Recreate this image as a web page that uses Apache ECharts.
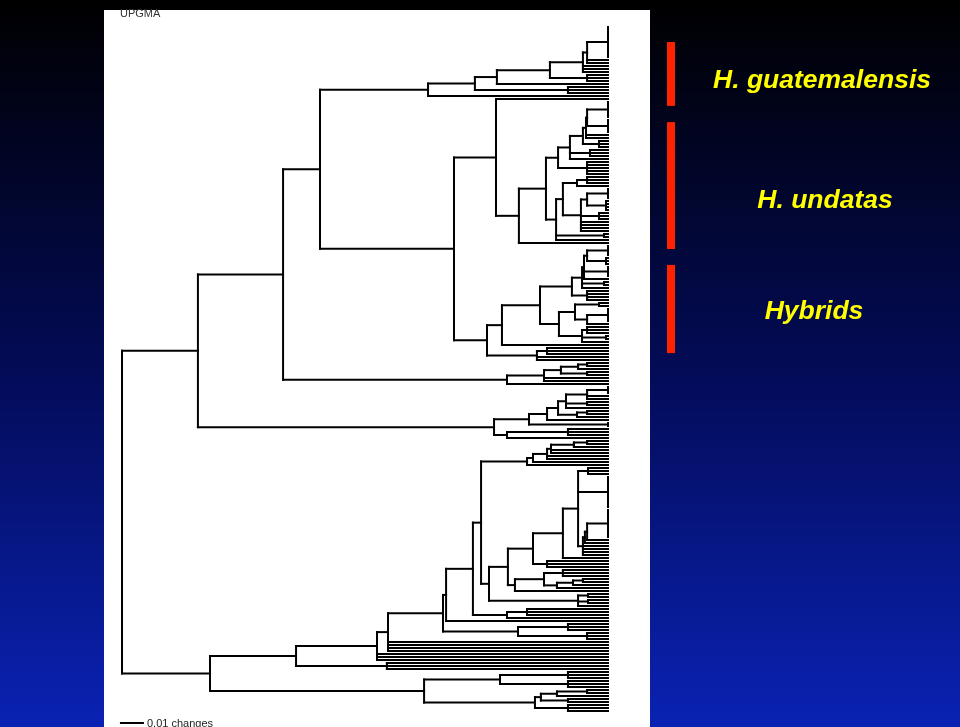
<!DOCTYPE html>
<html><head><meta charset="utf-8">
<script src="https://cdn.jsdelivr.net/npm/echarts@6/dist/echarts.min.js"></script>
<style>html,body{margin:0;padding:0;background:#000;}#c{width:960px;height:727px;}</style>
</head><body><div id="c"></div>
<script>
// Tree nodes: [height in changes, child, child, ...]; a plain number n = n leaves attached at that node.
const guatClade = [0.0818,
  [0.0605,
    [0.0505,
      [0.0264,
        [0.0114, [0.0095, [0, 11], 1, 1], 1, 1, 1],
        [0.0095, 3]],
      1],
    [0.0182, 3]],
  1];
const undatasClade = [0.0509,
  1,
  [0.0405,
    [0.0282,
      [0.0227,
        [0.0173,
          [0.0114,
            [0.0100, [0.0095, [0, 6], [0, 5]], 1, 1],
            [0.0041, 3]],
          [0.0082, 3],
          1],
        [0.0095, 5]],
      [0.0236,
        [0.0205,
          [0.0141, [0.0095, 3], 1],
          [0.0123, [0.0095, [0, 4], [0.0009, 4]], [0.0041, 3], 1, 1, 1, 1]],
        [0.0018, 2],
        1]],
    1]];
const hybridClade = [0.0550,
  [0.0482,
    [0.0309,
      [0.0164,
        [0.0118,
          [0.0109, [0.0095, [0, 4], [0.0009, 3]], [0, 4], 1],
          [0.0018, 2],
          1],
        [0.0095, 4]],
      [0.0223,
        [0.0150, [0.0041, 2], [0.0095, [0, 5], 1]],
        [0.0118, [0.0095, 3], [0.0009, 2], 1]]],
    1],
  [0.0323, [0.0277, 3], 1, 1]];
const smallClade = [0.0459,
  [0.0291, [0.0214, [0.0136, [0.0095, 2], 1], [0.0095, 2]], 1, 1],
  1];
const sisterClade = [0.0518,
  [0.0359,
    [0.0277,
      [0.0227,
        [0.0191, [0.0095, [0, 3], 1, 1], [0.0095, 2], 1],
        [0.0141, [0.0095, 2], 1]],
      1],
    [0, 2]],
  [0.0459, [0.0182, 3], 1]];
const lowerTop = [0.0368, [0.0341, [0.0277, [0.0259, [0.0155, [0.0095, 2], 1], 1, 1], 1, 1], 1], 1];
const lowerCore = [0.0136, [0.0091, 3], [0, 11],
  [0.0114, [0.0105, [0.0095, [0, 10], 1], 1], 1, 1, 1, 1]];
const lowerMid = [0.0423, [0.0291, [0.0205, 3], [0.0232, [0.0159, [0.0114, 2], 1], 1]], 1];
const lowerB = [0.0136, [0.0091, 2], [0.0091, 2], 1];
const lowerC = [0.0459, [0.0368, 3], 1];
const lowerD = [0.0409, [0.0182, 3], [0.0095, 3]];
const bottomClade = [0.0836,
  [0.0491, [0.0182, 3], [0.0182, 3]],
  [0.0332, [0.0305, [0.0232, [0.0095, 2], 1], [0.0182, 2]], [0.0182, 3]]];
// deep node heights
const deepHeights = { root: 0.2209, A: 0.1864, A1: 0.1477, A1a: 0.1309, A1a2: 0.0700,
  B: 0.1809, B1: 0.1418, N377: 0.1050, N386: 0.1005, N387: 0.1000, N443: 0.0750, N446: 0.0736,
  N473: 0.0614, N482: 0.0577, N489: 0.0541, N508: 0.0455, N533: 0.0341, N563: 0.0205 };
const groupNames = ['H. guatemalensis', 'H. undatas', 'Hybrids'];
const groupRanges = [[5, 26.3], [31.7, 74], [79.3, 108.7]];
const scaleBar = [0.2214, 0.2114]; // 0.01 changes
const scaleRow = 232;
// label placement (pixel offsets from the bar): [dx, dy]
const labelShift = [[155, 7], [158, 15], [147, 3]];

const d = deepHeights;
const lowerClade = [d.B1,
  [d.N377,
    [d.N387,
      [d.N443,
        [d.N446,
          [d.N473,
            [d.N482, lowerTop,
              [d.N489,
                [d.N508, [d.N533, [d.N563, lowerCore, 1], [0.0277, 3]], lowerMid],
                lowerB]],
            lowerC],
          1],
        lowerD],
      1, 1, 1, 1],
    1, 1, 1],
  [d.N386, 1, 1, 1]];
const tree = [d.root,
  [d.A, [d.A1, [d.A1a, guatClade, [d.A1a2, undatasClade, hybridClade]], smallClade], sisterClade],
  [d.B, lowerClade, bottomClade]];

const segs = [];
let leafCounter = 0;
function walk(node) {
  const h = node[0], ys = [];
  for (let k = 1; k < node.length; k++) {
    const c = node[k];
    if (typeof c === 'number') {
      for (let j = 0; j < c; j++) {
        const y = leafCounter++;
        if (h > 0) segs.push([h, y, 0, y]);
        ys.push(y);
      }
    } else {
      const cy = walk(c);
      segs.push([h, cy, c[0], cy]);
      ys.push(cy);
    }
  }
  const lo = Math.min(...ys), hi = Math.max(...ys);
  if (hi > lo) segs.push([h, lo, h, hi]);
  return (lo + hi) / 2;
}
walk(tree);
segs.push([scaleBar[0], scaleRow, scaleBar[1], scaleRow]);

const chart = echarts.init(document.getElementById('c'), null, { renderer: 'canvas' });
const ROW = 3;
chart.setOption({
  animation: false,
  backgroundColor: { type: 'linear', x: 0, y: 0, x2: 0, y2: 1,
    colorStops: [{ offset: 0, color: '#000000' }, { offset: 0.5, color: '#030b55' }, { offset: 1, color: '#0a22b4' }] },
  grid: { left: 608 - 0.222 * 2200, right: 352, top: 27, height: scaleRow * ROW },
  xAxis: { type: 'value', min: 0, max: 0.222, inverse: true, show: false },
  yAxis: { type: 'value', min: 0, max: scaleRow, inverse: true, show: false },
  graphic: [
    { type: 'rect', z: 0, shape: { x: 104, y: 10, width: 546, height: 717 }, style: { fill: '#ffffff' } },
    { type: 'text', z: 1, left: 120, top: 8, style: { text: 'UPGMA', fill: '#333', font: '11px "Liberation Sans", Arial, sans-serif' } },
    { type: 'text', z: 1, left: 147, top: 718, style: { text: '0.01 changes', fill: '#222', font: '11px "Liberation Sans", Arial, sans-serif' } }
  ],
  series: [
    {
      type: 'custom', z: 10, clip: false,
      encode: { x: [0, 2], y: [1, 3] },
      data: segs,
      renderItem: function (params, api) {
        const p1 = api.coord([api.value(0), api.value(1)]);
        const p2 = api.coord([api.value(2), api.value(3)]);
        return { type: 'line', shape: { x1: p1[0], y1: p1[1], x2: p2[0], y2: p2[1] },
          style: { stroke: '#000', lineWidth: 2, lineCap: 'square' } };
      }
    },
    {
      type: 'custom', z: 10, clip: false,
      encode: { x: 0, y: [1, 2] },
      data: groupRanges.map((r, i) => [0, r[0], r[1], i]),
      renderItem: function (params, api) {
        const i = api.value(3);
        const p1 = api.coord([0, api.value(1)]);
        const p2 = api.coord([0, api.value(2)]);
        const barX = p1[0] + 59;
        const mid = (p1[1] + p2[1]) / 2;
        return { type: 'group', children: [
          { type: 'rect', shape: { x: barX, y: p1[1], width: 8, height: p2[1] - p1[1] }, style: { fill: '#ff2200' } },
          { type: 'text', style: { text: groupNames[i], x: barX + labelShift[i][0], y: mid + labelShift[i][1],
              align: 'center', verticalAlign: 'middle',
              fill: '#ffff00', font: 'italic bold 26.5px "Liberation Sans", Arial, sans-serif' } }
        ] };
      }
    }
  ]
});
</script>
</body></html>
